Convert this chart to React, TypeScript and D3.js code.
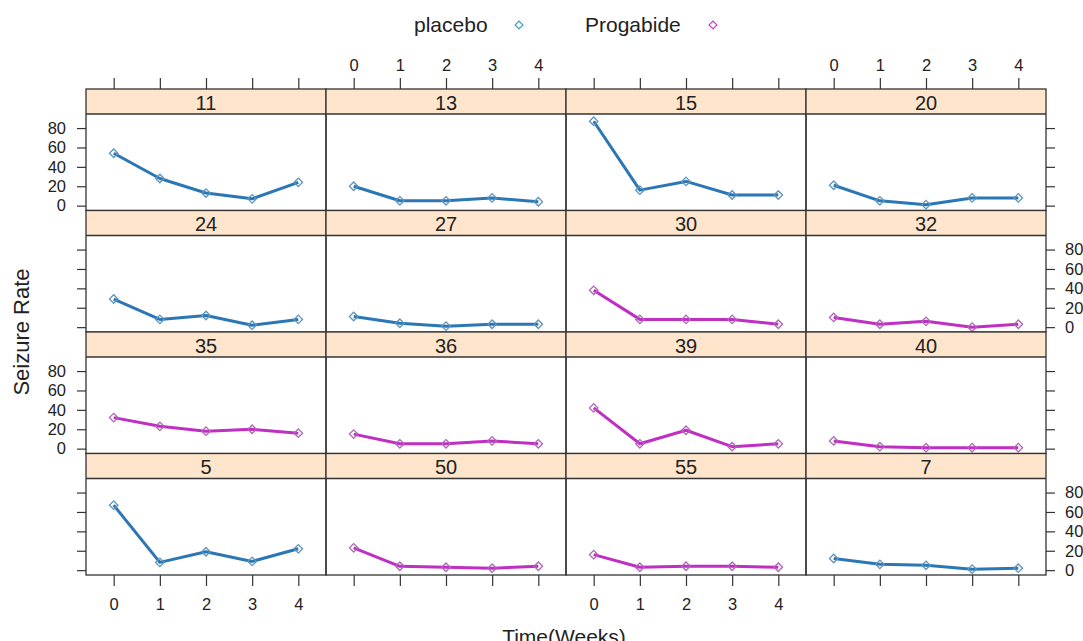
import React, { useEffect, useRef } from "react";
import * as d3 from "d3";

// one panel per subject, weeks 0..4
const weeks = [0, 1, 2, 3, 4];
const subjects = ["11", "13", "15", "20", "24", "27", "30", "32", "35", "36", "39", "40", "5", "50", "55", "7"];
const treatments = [
  "placebo", "placebo", "placebo", "placebo",
  "placebo", "placebo", "Progabide", "Progabide",
  "Progabide", "Progabide", "Progabide", "Progabide",
  "placebo", "Progabide", "Progabide", "placebo",
];
const seizureRates = [
  [54, 28, 13, 7, 24],
  [20, 5, 5, 8, 4],
  [87, 16, 25, 11, 11],
  [21, 5, 1, 8, 8],
  [29, 8, 12, 2, 8],
  [11, 4, 1, 3, 3],
  [38, 8, 8, 8, 3],
  [10, 3, 6, 0, 3],
  [32, 23, 18, 20, 16],
  [15, 5, 5, 8, 5],
  [42, 5, 19, 2, 5],
  [8, 2, 1, 1, 1],
  [67, 8, 19, 9, 22],
  [23, 4, 3, 2, 4],
  [16, 3, 4, 4, 3],
  [12, 6, 5, 1, 2],
];
const groups = ["placebo", "Progabide"];
const yTicks = [0, 20, 40, 60, 80];

const lineColor = { placebo: "#2b77b6", Progabide: "#c02ec4" };
const pointColor = { placebo: "#5f95bc", Progabide: "#ac68b4" };
const keyColor = { placebo: "#3e9cc2", Progabide: "#c144c4" };

const width = 1083;
const height = 641;
const font = "'Liberation Sans', Arial, sans-serif";

const App = () => {
  const ref = useRef(null);

  useEffect(() => {
    const svg = d3.select(ref.current);
    svg.selectAll("*").remove();

    const left = 86;
    const top = 89;
    const colW = 240;
    const rowH = 121.5;
    const stripH = 25;
    const nCol = 4;
    const nRow = 4;
    const ink = "#333";

    const cols = d3.range(nCol);
    const rows = d3.range(nRow);

    const xFor = (c) =>
      d3.scaleLinear().domain([-0.6, 4.6]).range([left + c * colW, left + (c + 1) * colW]);
    const yFor = (r) =>
      d3.scaleLinear().domain([-5, 94.5]).range([top + (r + 1) * rowH, top + r * rowH + stripH]);

    // legend
    const key = svg.append("g").attr("font-family", font).attr("font-size", 21).attr("fill", "#222");
    const keyX = { placebo: [414, 519], Progabide: [585, 713] };
    groups.forEach((g) => {
      key.append("text").attr("x", keyX[g][0]).attr("y", 25).attr("dy", "0.35em").text(g);
      key.append("path")
        .attr("d", d3.symbol(d3.symbolSquare, 30)())
        .attr("transform", `translate(${keyX[g][1]},25) rotate(45)`)
        .attr("fill", "none")
        .attr("stroke", keyColor[g])
        .attr("stroke-width", 1.2);
    });

    const styleAxis = (sel) => {
      sel.select(".domain").remove();
      sel.selectAll(".tick line").attr("stroke", ink).attr("stroke-width", 1.2);
      sel.selectAll(".tick text").attr("fill", "#222");
      sel.attr("font-family", font).attr("font-size", 16.5);
    };

    // panels
    subjects.forEach((s, i) => {
      const c = i % nCol;
      const r = Math.floor(i / nCol);
      const x = xFor(c);
      const y = yFor(r);
      const x0 = left + c * colW;
      const y0 = top + r * rowH;
      const g = treatments[i];
      const panel = svg.append("g");

      panel.append("rect")
        .attr("x", x0).attr("y", y0).attr("width", colW).attr("height", stripH)
        .attr("fill", "#ffe5cc");
      panel.append("text")
        .attr("x", x0 + colW / 2).attr("y", y0 + stripH / 2 + 1)
        .attr("dy", "0.35em").attr("text-anchor", "middle")
        .attr("font-family", font).attr("font-size", 20).attr("fill", "#222")
        .text(s);

      const pts = weeks.map((w, k) => [w, seizureRates[i][k]]);
      const line = d3.line().x((d) => x(d[0])).y((d) => y(d[1]));
      panel.append("path")
        .attr("d", line(pts))
        .attr("fill", "none")
        .attr("stroke", lineColor[g])
        .attr("stroke-width", 3)
        .attr("stroke-linejoin", "round");
      panel.selectAll("path.pt")
        .data(pts)
        .join("path")
        .attr("class", "pt")
        .attr("d", d3.symbol(d3.symbolSquare, 36)())
        .attr("transform", (d) => `translate(${x(d[0])},${y(d[1])}) rotate(45)`)
        .attr("fill", "none")
        .attr("stroke", pointColor[g])
        .attr("stroke-width", 1.3);

      panel.append("rect")
        .attr("x", x0).attr("y", y0).attr("width", colW).attr("height", rowH)
        .attr("fill", "none").attr("stroke", ink).attr("stroke-width", 1.3);
      panel.append("line")
        .attr("x1", x0).attr("x2", x0 + colW)
        .attr("y1", y0 + stripH).attr("y2", y0 + stripH)
        .attr("stroke", ink).attr("stroke-width", 1.3);
    });

    // x axes, alternating labels (top: cols 2,4; bottom: cols 1,3)
    cols.forEach((c) => {
      const x = xFor(c);
      const topAxis = d3.axisTop(x).tickValues(weeks).tickSize(11).tickPadding(7)
        .tickFormat(c % 2 === 1 ? d3.format("d") : () => "");
      svg.append("g").attr("transform", `translate(0,${top})`).call(topAxis).call(styleAxis);
      const bottomAxis = d3.axisBottom(x).tickValues(weeks).tickSize(11).tickPadding(12)
        .tickFormat(c % 2 === 0 ? d3.format("d") : () => "");
      svg.append("g").attr("transform", `translate(0,${top + nRow * rowH})`).call(bottomAxis).call(styleAxis);
    });

    // y axes, alternating labels (left: rows 1,3; right: rows 2,4)
    rows.forEach((r) => {
      const y = yFor(r);
      const leftAxis = d3.axisLeft(y).tickValues(yTicks).tickSize(9).tickPadding(11)
        .tickFormat(r % 2 === 0 ? d3.format("d") : () => "");
      svg.append("g").attr("transform", `translate(${left},0)`).call(leftAxis).call(styleAxis);
      const rightAxis = d3.axisRight(y).tickValues(yTicks).tickSize(9).tickPadding(10)
        .tickFormat(r % 2 === 1 ? d3.format("d") : () => "");
      svg.append("g").attr("transform", `translate(${left + nCol * colW},0)`).call(rightAxis).call(styleAxis);
    });

    // axis titles
    svg.append("text")
      .attr("transform", `translate(21,${top + (nRow * rowH) / 2}) rotate(-90)`)
      .attr("text-anchor", "middle").attr("dy", "0.35em")
      .attr("font-family", font).attr("font-size", 22).attr("fill", "#222")
      .text("Seizure Rate");
    svg.append("text")
      .attr("x", left + (nCol * colW) / 2 - 2).attr("y", 644)
      .attr("text-anchor", "middle")
      .attr("font-family", font).attr("font-size", 21).attr("fill", "#222")
      .text("Time(Weeks)");
  }, []);

  return (
    <svg
      ref={ref}
      width={width}
      height={height}
      style={{ position: "absolute", left: 0, top: 0, background: "#fff" }}
    />
  );
};

export default App;
